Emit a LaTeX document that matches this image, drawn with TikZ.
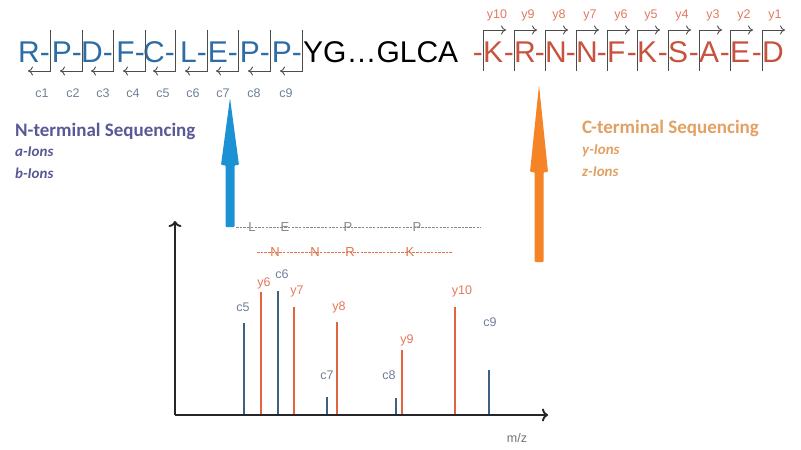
\documentclass[tikz,border=0pt]{standalone}
\usepackage{fontspec}
\setmainfont{Liberation Sans}
\newfontfamily\calibri{Carlito}
\usetikzlibrary{calc, arrows.meta}

\definecolor{nblue}{RGB}{45,108,165}
\definecolor{cred}{RGB}{200,82,62}
\definecolor{cionc}{RGB}{110,128,150}
\definecolor{yionc}{RGB}{225,120,95}
\definecolor{peakblue}{RGB}{62,96,130}
\definecolor{peakred}{RGB}{228,98,62}
\definecolor{arrblue}{RGB}{28,146,212}
\definecolor{arrorange}{RGB}{245,132,38}
\definecolor{ntext}{RGB}{88,88,150}
\definecolor{ctext}{RGB}{226,160,98}
\definecolor{fraggray}{RGB}{135,135,135}
\definecolor{fragred}{RGB}{222,115,75}

\tikzset{
    res/.style={font=\fontsize{30}{30}\selectfont, inner sep=0pt, anchor=base east},
    ion/.style={font=\fontsize{12.5}{12.5}\selectfont, inner sep=0pt},
    bar/.style={draw=black!70, line width=0.9pt, -{To[length=5pt, width=9pt]}},
    peak/.style={line width=2.6pt},
    frag/.style={font=\fontsize{13}{13}\selectfont, inner sep=0pt},
    head/.style={font=\calibri\bfseries\fontsize{19}{19}\selectfont, inner sep=0pt, anchor=west},
    sub/.style={font=\calibri\bfseries\itshape\fontsize{15}{15}\selectfont, inner sep=0pt, anchor=west}
}

\begin{document}
\begin{tikzpicture}[x=1pt, y=-1pt]
        \useasboundingbox (0, 0) rectangle (801, 450);
        % N-terminal residues
        \node[res, nblue] (r1) at (50, 62) {R-};
        \node[res, nblue] (r2) at (82, 62) {P-};
        \node[res, nblue] (r3) at (113, 62) {D-};
        \node[res, nblue] (r4) at (145, 62) {F-};
        \node[res, nblue] (r5) at (175, 62) {C-};
        \node[res, nblue] (r6) at (207, 62) {L-};
        \node[res, nblue] (r7) at (238, 62) {E-};
        \node[res, nblue] (r8) at (270, 62) {P-};
        \node[res, nblue] (r9) at (302, 62) {P-};
        \node[res, anchor=base west] (mid) at (303, 62) {YG…GLCA};
        % C-terminal residues
        \foreach \x/\l [count=\i] in {483/K, 514/R, 545/N, 576/N, 607/F, 637/K, 668/S, 699/A, 730/E, 762/D} {
            \node[res, cred] (h\i) at (\x, 62) {-};
            \node[res, cred, anchor=base west] (k\i) at (\x, 62) {\l};
        }
        % fragmentation marks
        \foreach \x in {50, 82, 113, 145, 175, 207, 238, 270, 302}
            \draw[bar] (\x, 30) -- (\x, 71) -- (\x-22, 71);
        \foreach \x in {483, 514, 545, 576, 607, 637, 668, 699, 730, 762}
            \draw[bar] (\x, 71) -- (\x, 30) -- (\x+23, 30);
        \foreach \x/\n in {42/1, 73/2, 103/3, 133/4, 163/5, 193/6, 223/7, 254/8, 286/9}
            \node[ion, cionc] (c\n) at (\x, 93) {c\n};
        \foreach \x/\n in {497/10, 528/9, 559/8, 590/7, 621/6, 651/5, 682/4, 713/3, 744/2, 775/1}
            \node[ion, yionc] (y\n) at (\x, 15) {y\n};
        % labels
        \node[head, ntext] (nterm) at (15, 131) {N-terminal Sequencing};
        \node[sub, ntext] (aions) at (15, 152) {a-Ions};
        \node[sub, ntext] (bions) at (15, 173) {b-Ions};
        \node[head, ctext] (cterm) at (582, 128) {C-terminal Sequencing};
        \node[sub, ctext] (yions) at (582, 151) {y-Ions};
        \node[sub, ctext] (zions) at (582, 172) {z-Ions};
        % big arrows
        \fill[arrblue, rounded corners=1pt] (225.5, 227) -- (225.5, 165) -- (221, 165) -- (230, 98) -- (239, 165) -- (234.5, 165) -- (234.5, 227) -- cycle;
        \fill[arrorange, rounded corners=1pt] (534.5, 262) -- (534.5, 172) -- (530, 172) -- (539, 85) -- (548, 172) -- (543.5, 172) -- (543.5, 262) -- cycle;
        % read-out ladders
        \draw[fraggray, line width=0.8pt, dash pattern=on 2.5pt off 1.2pt] (236, 227) -- (481, 227);
        \node[frag, fraggray] (fl) at (252, 227) {L};
        \node[frag, fraggray] (fe) at (285, 227) {E};
        \node[frag, fraggray] (fp1) at (348, 227) {P};
        \node[frag, fraggray] (fp2) at (417, 227) {P};
        \draw[fragred, line width=0.8pt, dash pattern=on 2.5pt off 1.2pt] (257, 252) -- (453, 252);
        \node[frag, fragred] (fn1) at (275, 252) {N};
        \node[frag, fragred] (fn2) at (315, 252) {N};
        \node[frag, fragred] (fr) at (350, 252) {R};
        \node[frag, fragred] (fk) at (410, 252) {K};
        % spectrum
        \foreach \x/\t in {244/323, 278/291, 327/397, 396/398, 489/370}
            \draw[peak, peakblue] (\x, 414) -- (\x, \t);
        \foreach \x/\t in {261/292, 294/307, 337/322, 402/350, 455/307}
            \draw[peak, peakred] (\x, 414) -- (\x, \t);
        \coordinate (origin) at (175, 415);
        \coordinate (ytop) at (175, 221);
        \coordinate (xend) at (548, 415);
        \draw[line width=1.9pt, black!85, -{To[length=6pt, width=13pt]}] (origin) -- (ytop);
        \draw[line width=1.9pt, black!85, -{To[length=6pt, width=13pt]}] (origin) -- (xend);
        \node[ion, black!55] (mz) at (517, 438) {m/z};
        \node[ion, cionc] (lc5) at (243, 307) {c5};
        \node[ion, yionc] (ly6) at (264, 283) {y6};
        \node[ion, cionc] (lc6) at (282, 274) {c6};
        \node[ion, yionc] (ly7) at (297, 291) {y7};
        \node[ion, yionc] (ly8) at (339, 307) {y8};
        \node[ion, cionc] (lc7) at (327, 375) {c7};
        \node[ion, cionc] (lc8) at (389, 375) {c8};
        \node[ion, yionc] (ly9) at (407, 340) {y9};
        \node[ion, yionc] (ly10) at (462, 291) {y10};
        \node[ion, cionc] (lc9) at (490, 322) {c9};
    \end{tikzpicture}
\end{document}
